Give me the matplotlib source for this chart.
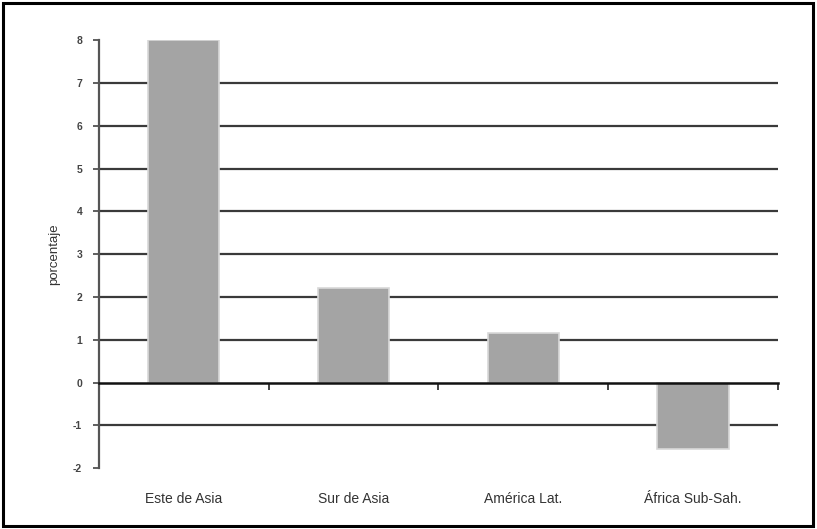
import matplotlib
matplotlib.use("Agg")
import matplotlib.pyplot as plt
from matplotlib.patches import Rectangle
from matplotlib.transforms import blended_transform_factory

plt.rcParams['font.family'] = ['Liberation Sans', 'DejaVu Sans']

regions = ["Este de Asia", "Sur de Asia", "América Lat.", "África Sub-Sah."]
values = [8.0, 2.2, 1.15, -1.55]
y_ticks = [-2, -1, 0, 1, 2, 3, 4, 5, 6, 7, 8]

fig = plt.figure(figsize=(8.17, 5.29), dpi=100)
ax = fig.add_axes([0.121, 0.115, 0.831, 0.809])

x = list(range(len(regions)))
ax.bar(x, values, width=0.42, color="#a4a4a4", edgecolor="#d8d8d8",
       linewidth=1.2, zorder=3)

# horizontal reference lines (skip the outer limits)
for v in y_ticks:
    if v not in (-2, 0, 8):
        ax.axhline(v, color="#3a3a3a", linewidth=1.6, zorder=1)

ax.set_xlim(-0.5, len(regions) - 0.5)
ax.set_ylim(-2, 8)
ax.set_yticks(y_ticks)
ax.set_yticklabels([str(v) for v in y_ticks], fontsize=7.5,
                   fontweight='bold', color="#444444")
ax.tick_params(axis='y', direction='out', length=4, width=1.2,
               color="#444444", pad=8)

# category axis sits on the zero line, ticks at category boundaries
ax.spines['bottom'].set_position(('data', 0))
ax.spines['bottom'].set_linewidth(1.8)
ax.spines['bottom'].set_color("#111111")
ax.spines['bottom'].set_zorder(4)
ax.set_xticks([i + 0.5 for i in x])
ax.set_xticklabels([])
ax.tick_params(axis='x', direction='out', length=5, width=1.2, color="#222222")

ax.spines['left'].set_linewidth(1.6)
ax.spines['left'].set_color("#555555")
ax.spines['top'].set_visible(False)
ax.spines['right'].set_visible(False)

trans = blended_transform_factory(ax.transData, ax.transAxes)
for xi, name in zip(x, regions):
    ax.text(xi, -0.072, name, transform=trans, ha='center', va='center',
            fontsize=10, color="#333333")

ax.set_ylabel("porcentaje", fontsize=9.5, color="#333333", labelpad=9)

# frame around the whole figure
fig.patches.append(Rectangle((0.004, 0.006), 0.991, 0.988,
                             transform=fig.transFigure, fill=False,
                             edgecolor="black", linewidth=2.2))

fig.savefig("out.png", dpi=100)
